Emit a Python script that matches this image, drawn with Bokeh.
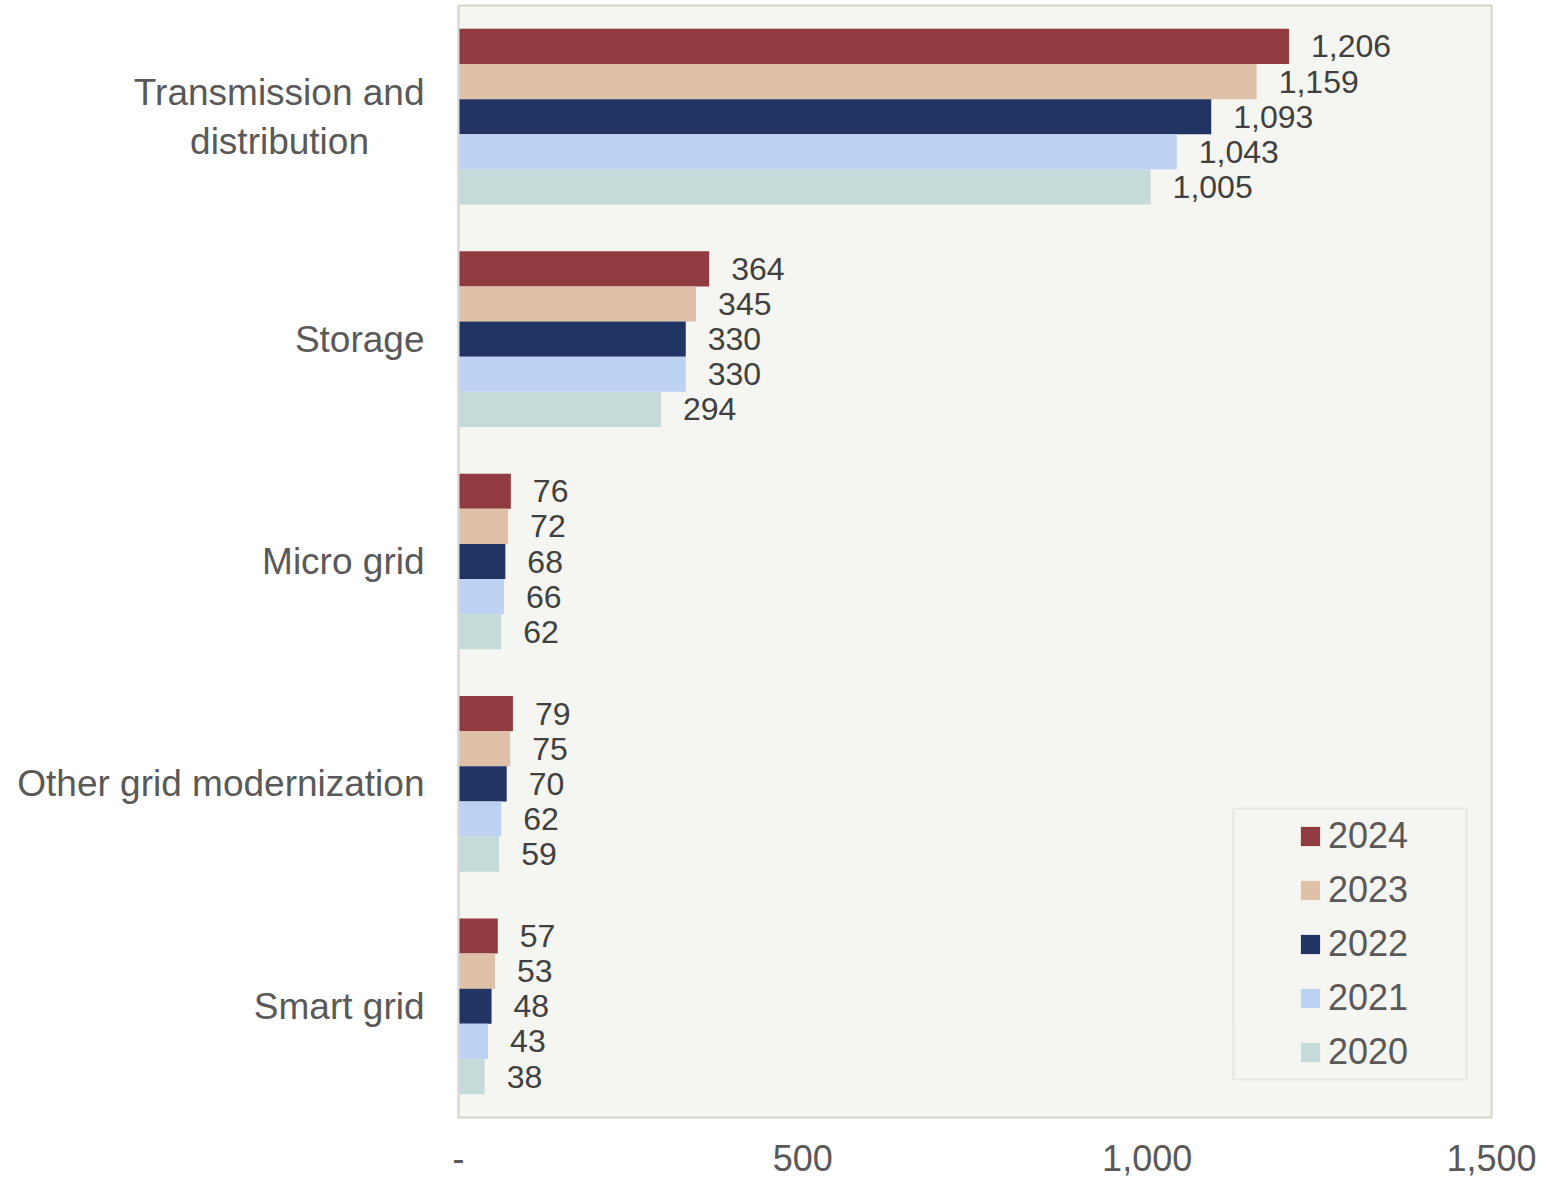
from bokeh.plotting import figure
from bokeh.models import ColumnDataSource, Range1d, FactorRange, FixedTicker, Legend, LegendItem, BoxAnnotation
from bokeh.transform import dodge
from bokeh.core.properties import value
from bokeh.embed import file_html
from bokeh.resources import INLINE

categories = ["Transmission and\ndistribution\u2002\u2002\u2002", "Storage", "Micro grid",
              "Other grid modernization", "Smart grid"]
years = ["2024", "2023", "2022", "2021", "2020"]
v2024 = [1206, 364, 76, 79, 57]
v2023 = [1159, 345, 72, 75, 53]
v2022 = [1093, 330, 68, 70, 48]
v2021 = [1043, 330, 66, 62, 43]
v2020 = [1005, 294, 62, 59, 38]
series = [v2024, v2023, v2022, v2021, v2020]
colors = ["#8F3B3F", "#DFC1A9", "#223463", "#BDD2F3", "#C5DBD9"]
x_ticks = [0, 500, 1000, 1500]
x_tick_labels = {0: "-", 500: "500", 1000: "1,000", 1500: "1,500"}

FONT = "Liberation Sans"

p = figure(width=1542, height=1179, output_backend="svg", toolbar_location=None,
           y_range=FactorRange(factors=list(reversed(categories))),
           x_range=Range1d(0, 1500),
           min_border_left=458, min_border_right=51, min_border_top=5, min_border_bottom=62)
p.background_fill_color = "#F5F5F1"
p.border_fill_color = "white"
p.outline_line_color = "#D2D5C5"
p.outline_line_width = 2
p.xgrid.visible = False
p.ygrid.visible = False

bar_h = 0.158
offsets = [2 * bar_h, bar_h, 0.0, -bar_h, -2 * bar_h]

items = []
for yr, vals, col, off in zip(years, series, colors, offsets):
    src = ColumnDataSource(dict(cat=categories, val=vals,
                                lbl=[f"{v:,}" for v in vals]))
    r = p.hbar(y=dodge("cat", off, range=p.y_range), right="val", left=0,
               height=bar_h, source=src, fill_color=col, line_color=None)
    p.text(x="val", y=dodge("cat", off, range=p.y_range), text="lbl", source=src,
           x_offset=22, text_baseline="middle", text_align="left",
           text_font=value(FONT), text_font_size="32px", text_color="#404040")
    items.append(LegendItem(label=yr, renderers=[r]))

legend = Legend(items=items, location=(840, 44), padding=0, margin=0,
                glyph_width=24, glyph_height=24, label_standoff=6,
                label_height=40, spacing=12,
                label_text_font=FONT, label_text_font_size="36px",
                label_text_color="#595959",
                border_line_alpha=0, background_fill_alpha=0)
p.add_layout(legend, "center")

# legend frame
p.add_layout(BoxAnnotation(left=1125.3, right=1463.6, bottom=0.171, top=1.389,
                           fill_alpha=0, line_color="#BFBFBF", line_width=2))

xa = p.xaxis[0]
xa.ticker = FixedTicker(ticks=x_ticks)
xa.major_label_overrides = x_tick_labels
xa.major_tick_line_color = None
xa.minor_tick_line_color = None
xa.axis_line_color = None
xa.major_label_standoff = 21
xa.major_label_text_font = FONT
xa.major_label_text_font_size = "36px"
xa.major_label_text_color = "#595959"

ya = p.yaxis[0]
ya.major_tick_line_color = None
ya.minor_tick_line_color = None
ya.axis_line_color = "#D9D9D9"
ya.axis_line_width = 2
ya.major_label_standoff = 28
ya.major_label_text_font = FONT
ya.major_label_text_font_size = "37px"
ya.major_label_text_color = "#595959"

open("out.html", "w").write(file_html(p, INLINE))
